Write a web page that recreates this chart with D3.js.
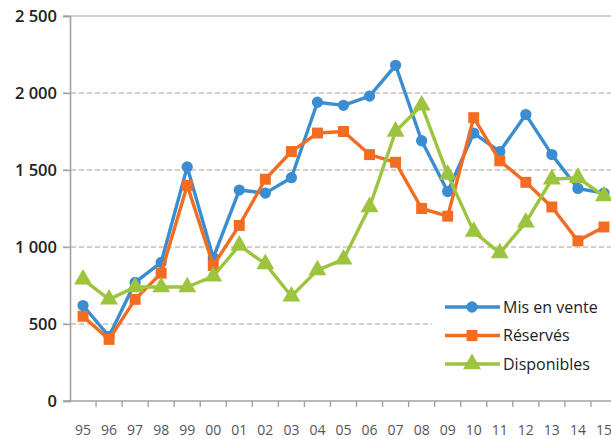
<!DOCTYPE html>
<html>
<head>
<meta charset="utf-8">
<script src="https://cdn.jsdelivr.net/npm/d3@7"></script>
<style>
  html, body { margin: 0; padding: 0; background: #ffffff; }
  svg { display: block; font-family: "Open Sans", "Noto Sans", sans-serif; }
</style>
</head>
<body>
<svg id="chart" width="611" height="439"></svg>
<script>
// Years (two-digit labels)
const years = ["95","96","97","98","99","00","01","02","03","04","05","06","07","08","09","10","11","12","13","14","15"];

// Series values
const misEnVente = [620, 420, 770, 900, 1520, 930, 1370, 1350, 1450, 1940, 1920, 1980, 2180, 1690, 1360, 1740, 1620, 1860, 1600, 1380, 1350];
const reserves   = [550, 400, 660, 830, 1400, 880, 1140, 1440, 1620, 1740, 1750, 1600, 1550, 1250, 1200, 1840, 1560, 1420, 1260, 1040, 1130];
const disponibles = [790, 660, 740, 740, 740, 810, 1010, 890, 680, 850, 920, 1260, 1750, 1920, 1470, 1100, 960, 1160, 1440, 1450, 1330];

const yTicks = [0, 500, 1000, 1500, 2000, 2500];

const seriesNames = ["Mis en vente", "Réservés", "Disponibles"];
const seriesColors = ["#3a8dd0", "#f26d21", "#9cc43e"];
const seriesSymbols = [d3.symbolCircle, d3.symbolSquare, d3.symbolTriangle];
const seriesSizes = [100, 120, 140];

const series = [misEnVente, reserves, disponibles].map((values, i) => ({
  name: seriesNames[i], color: seriesColors[i], symbol: seriesSymbols[i], size: seriesSizes[i],
  points: years.map((yr, j) => ({ year: yr, value: values[j] }))
}));

const svg = d3.select("#chart");
const plotLeft = 70, plotRight = 617, plotTop = 16, plotBottom = 401;

const x = d3.scaleBand().domain(years).range([plotLeft, plotRight]);
const y = d3.scaleLinear().domain([0, 2500]).range([plotBottom, plotTop]);

// French thousands grouping with a space
const fmt = v => d3.format(",")(v).replace(/,/g, "\u00a0");

// Horizontal gridlines: dashed inside, solid at the top
const grid = svg.append("g");
grid.selectAll("line.dash")
  .data(yTicks.filter(t => t > 0 && t < 2500))
  .join("line")
  .attr("class", "dash")
  .attr("x1", plotLeft - 7).attr("x2", 611)
  .attr("y1", d => y(d)).attr("y2", d => y(d))
  .attr("stroke", "#cdbdb6").attr("stroke-width", 1.3)
  .attr("stroke-dasharray", "5,3");
grid.append("line")
  .attr("x1", plotLeft - 7).attr("x2", 611)
  .attr("y1", y(2500)).attr("y2", y(2500))
  .attr("stroke", "#c8c2bf").attr("stroke-width", 1.5);

// Y axis
const yAxis = svg.append("g")
  .attr("transform", `translate(${plotLeft},0)`)
  .call(d3.axisLeft(y).tickValues(yTicks).tickFormat(fmt).tickSize(7).tickPadding(6));
yAxis.select(".domain").attr("stroke", "#a8a09d").attr("stroke-width", 1.6);
yAxis.selectAll(".tick line").attr("stroke", "#a8a09d").attr("stroke-width", 1.4);
yAxis.selectAll(".tick text")
  .attr("font-family", "'Open Sans', sans-serif")
  .attr("font-size", 16.5).attr("font-weight", 600).attr("fill", "#222");

// X axis with ticks between categories
const xAxis = svg.append("g").attr("transform", `translate(0,${plotBottom})`);
xAxis.append("line")
  .attr("x1", plotLeft - 7).attr("x2", 611)
  .attr("stroke", "#a8a09d").attr("stroke-width", 1.6);
xAxis.selectAll("line.tk")
  .data(years.slice(1))
  .join("line")
  .attr("class", "tk")
  .attr("x1", d => x(d)).attr("x2", d => x(d))
  .attr("y1", 0).attr("y2", 6)
  .attr("stroke", "#a8a09d").attr("stroke-width", 1.4);
xAxis.selectAll("text")
  .data(years)
  .join("text")
  .attr("x", d => x(d) + x.bandwidth() / 2)
  .attr("y", 34)
  .attr("text-anchor", "middle")
  .attr("font-size", 14).attr("font-weight", 500).attr("fill", "#555")
  .text(d => d);

// Lines and markers
const line = d3.line()
  .x(d => x(d.year) + x.bandwidth() / 2)
  .y(d => y(d.value));

series.forEach(s => {
  const g = svg.append("g");
  g.append("path")
    .datum(s.points)
    .attr("d", line)
    .attr("fill", "none")
    .attr("stroke", s.color)
    .attr("stroke-width", 3.4)
    .attr("stroke-linejoin", "round");
  g.selectAll("path.mk")
    .data(s.points)
    .join("path")
    .attr("class", "mk")
    .attr("d", d3.symbol().type(s.symbol).size(s.size))
    .attr("transform", d => `translate(${x(d.year) + x.bandwidth() / 2},${y(d.value)})`)
    .attr("fill", s.color);
});

// Legend on a white panel
const legend = svg.append("g");
legend.append("rect")
  .attr("x", 432).attr("y", 290).attr("width", 179).attr("height", 88)
  .attr("fill", "#ffffff");
series.forEach((s, i) => {
  const ly = 307 + i * 28.5;
  legend.append("line")
    .attr("x1", 445).attr("x2", 500).attr("y1", ly).attr("y2", ly)
    .attr("stroke", s.color).attr("stroke-width", 3.4);
  legend.append("path")
    .attr("d", d3.symbol().type(s.symbol).size(s.size))
    .attr("transform", `translate(472,${ly})`)
    .attr("fill", s.color);
  legend.append("text")
    .attr("x", 503).attr("y", ly + 5.5)
    .attr("font-size", 16).attr("font-weight", 500).attr("fill", "#222")
    .text(s.name);
});
</script>
</body>
</html>
